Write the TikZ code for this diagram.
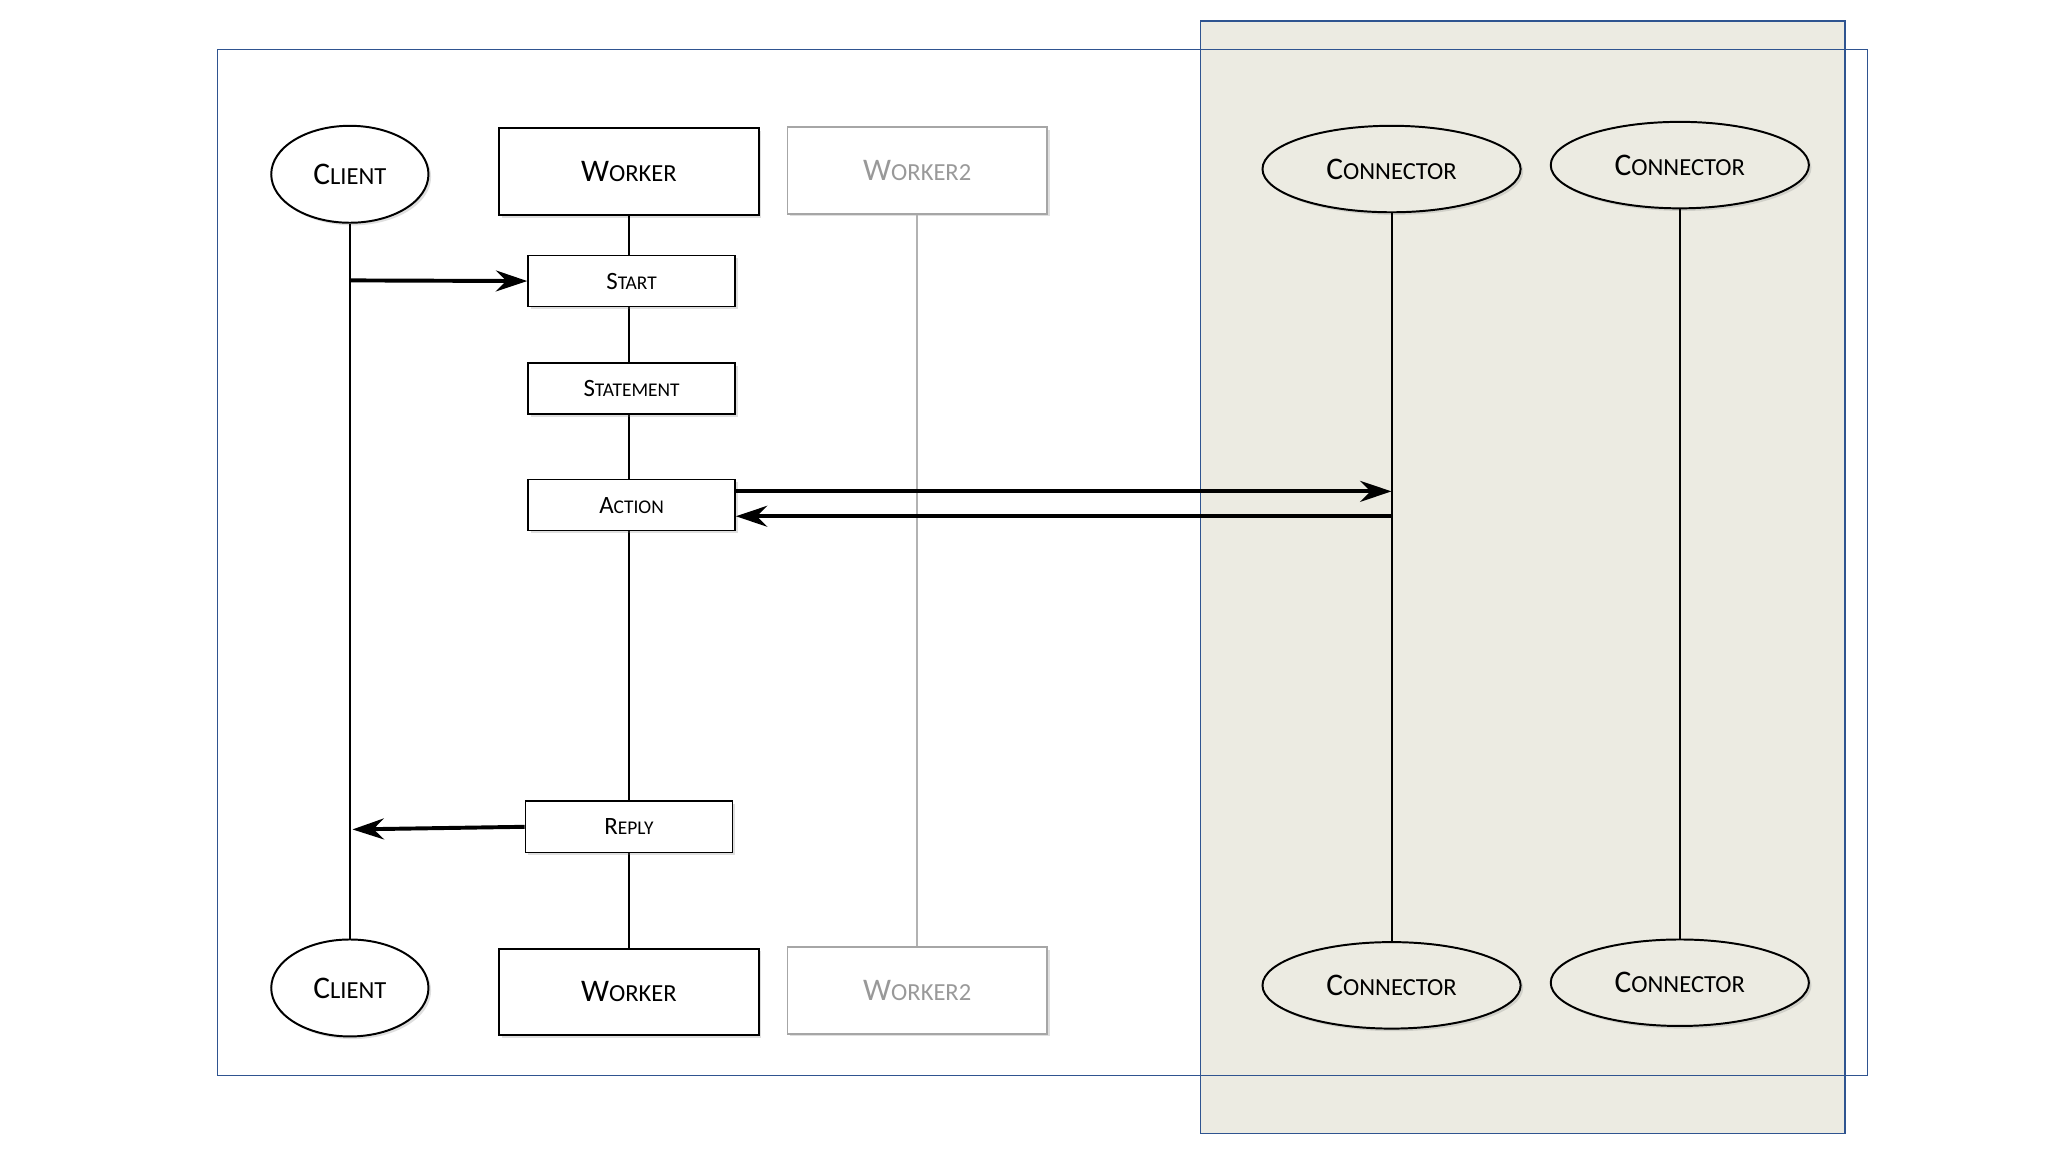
\documentclass[tikz,border=0pt]{standalone}
\usepackage{fontspec}
\setmainfont{Carlito}
\usetikzlibrary{arrows.meta,shadows,shapes.geometric}
\newcommand{\fsc}[2]{#1{\fontsize{0.78em}{1em}\selectfont #2}}
\definecolor{frame}{HTML}{2F5490}
\definecolor{shade}{HTML}{ECEBE2}
\begin{document}
\begin{tikzpicture}[x=1pt,y=-1pt,
  sh/.style={drop shadow={opacity=0.25,shadow xshift=2pt,shadow yshift=-2pt}},
  big/.style={font=\fontsize{24}{28}\selectfont},
  small/.style={font=\fontsize{19}{22}\selectfont},
  ell/.style={draw,line width=1.5pt,ellipse,sh,big,inner sep=0pt},
  box/.style={draw,line width=1.5pt,fill=white,sh,big,inner sep=0pt},
  gbox/.style={draw=gray!70,line width=1.5pt,fill=white,sh,big,text=gray!80,inner sep=0pt},
  stp/.style={draw,line width=1.2pt,fill=white,sh,small,minimum width=158pt,minimum height=39pt,inner sep=0pt},
  life/.style={line width=1.5pt},
  msg/.style={line width=3pt,-{Stealth[length=24pt,width=16pt,inset=8pt]}}]
\useasboundingbox (0,0) rectangle (1563,880);
\fill[white] (0,0) rectangle (1563,880);
\node[draw=frame,line width=1pt,minimum width=1259pt,minimum height=783pt,inner sep=0pt] (outer) at (795.5,429.5) {};
\node[draw=frame,fill=shade,line width=1pt,minimum width=492pt,minimum height=849pt,inner sep=0pt] (zone) at (1162,440.5) {};
\draw[frame,line width=1pt] (916,38) -- (1408,38) (916,821) -- (1408,821);
% heads
\node[ell,fill=white,minimum width=120pt,minimum height=74pt] (c1) at (267,133) {\fsc{C}{LIENT}};
\node[ell,fill=white,minimum width=120pt,minimum height=74pt] (c2) at (267,754) {\fsc{C}{LIENT}};
\node[box,minimum width=198pt,minimum height=66pt] (w1) at (480,131) {\fsc{W}{ORKER}};
\node[box,minimum width=198pt,minimum height=66pt] (w2) at (480,757) {\fsc{W}{ORKER}};
\node[gbox,minimum width=198pt,minimum height=66pt] (g1) at (700,130) {\fsc{W}{ORKER2}};
\node[gbox,minimum width=198pt,minimum height=66pt] (g2) at (700,756) {\fsc{W}{ORKER2}};
\node[ell,fill=shade,minimum width=197pt,minimum height=66pt] (k1) at (1062,129) {\fsc{C}{ONNECTOR}};
\node[ell,fill=shade,minimum width=197pt,minimum height=66pt] (k2) at (1282,126) {\fsc{C}{ONNECTOR}};
\node[ell,fill=shade,minimum width=197pt,minimum height=66pt] (k3) at (1062,752) {\fsc{C}{ONNECTOR}};
\node[ell,fill=shade,minimum width=197pt,minimum height=66pt] (k4) at (1282,750) {\fsc{C}{ONNECTOR}};
% lifelines
\draw[life] (c1) -- (c2);
\draw[life,gray!60] (g1) -- (g2);
\draw[life] (k1) -- (k3);
\draw[life] (k2) -- (k4);
\draw[life] (w1) -- (w2);
% steps
\node[stp] (start) at (482,214.5) {\fsc{S}{TART}};
\node[stp] (stmt) at (482,296.5) {\fsc{S}{TATEMENT}};
\node[stp] (act) at (482,385.5) {\fsc{A}{CTION}};
\node[stp] (rep) at (480,631) {\fsc{R}{EPLY}};
% messages
\coordinate (cs) at (267,214);
\coordinate (kin) at (1062,375);
\coordinate (kout) at (1062,394);
\coordinate (cr) at (269,633);
\draw[msg] (cs) -- (start.west);
\draw[msg] (act.east |- kin) -- (kin);
\draw[msg] (kout) -- (act.east |- kout);
\draw[msg] (rep.west) -- (cr);
\end{tikzpicture}
\end{document}
